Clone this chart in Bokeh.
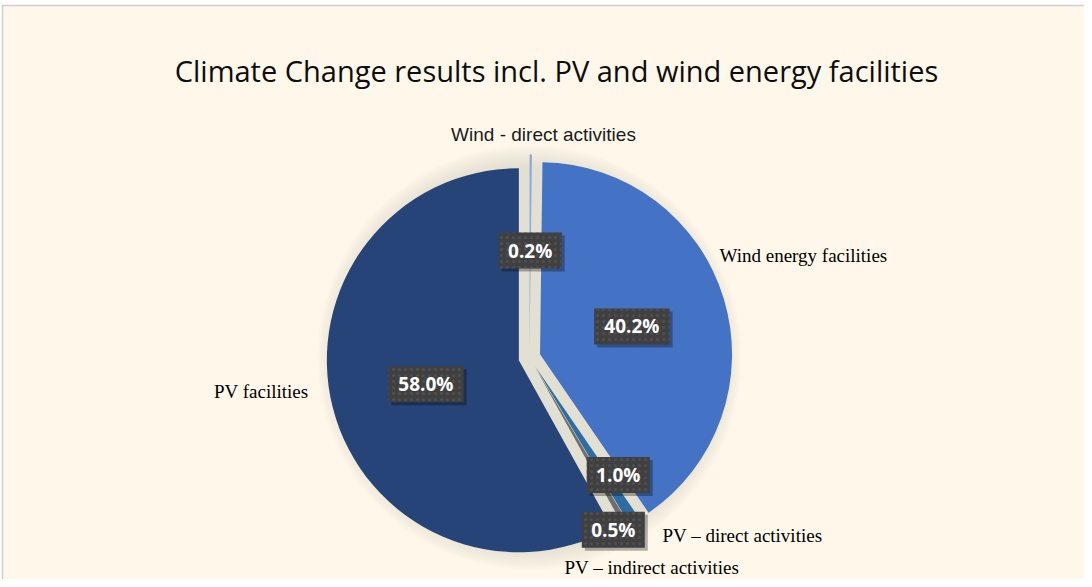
import numpy as np
from bokeh.plotting import figure
from bokeh.models import Range1d
from bokeh.embed import file_html
from bokeh.resources import INLINE
from bokeh.core.properties import value

# ---------------- data ----------------
categories = ["Wind - direct activities", "Wind energy facilities",
              "PV – direct activities", "PV – indirect activities", "PV facilities"]
shares = [0.2, 40.2, 1.0, 0.5, 58.0]
pct_labels = ["0.2%", "40.2%", "1.0%", "0.5%", "58.0%"]
colors = ["#8FAADC", "#4472C4", "#2E6CA4", "#6E6E6E", "#264478"]
title = "Climate Change results incl. PV and wind energy facilities"

# ---------------- layout ----------------
W, H = 1084, 579
CX, CY = 529, 222          # pie centre (data = screen px)
R = 192                    # radius
EXPLODE = 11               # slice explosion
lab_frac = [0.5, 0.5, 0.71, 0.94, 0.5]
lab_nudge = [0.0, 0.0, -4.8, 4.2, 0.0]   # degrees
# category label anchors (x, y, align, font)
cat_pos = [(543, 445, "center", "Liberation Sans"),
           (719, 324, "left", "Liberation Serif"),
           (662, 44, "left", "Liberation Serif"),
           (564, 12, "left", "Liberation Serif"),
           (308, 188, "right", "Liberation Serif")]

p = figure(width=W, height=H, x_range=Range1d(0, W), y_range=Range1d(0, H),
           output_backend="svg", toolbar_location=None, min_border=0)
p.axis.visible = False
p.grid.visible = False
p.outline_line_color = None
p.background_fill_color = "white"
p.border_fill_color = "white"

# chart frame
p.quad(left=2, right=W + 20, bottom=-20, top=H - 5,
       fill_color="#FFF8EA", line_color="#CFCFCF", line_width=1.5)

# soft shadow / gap background
for k in range(12):
    p.circle(x=CX, y=CY, radius=190 + 2 * k, fill_color="#D6D2C6",
             fill_alpha=0.07, line_color=None)

total = sum(shares)
cum = np.cumsum([0] + shares) / total * 2 * np.pi
th1 = cum[:-1]
th2 = cum[1:]
thm = (th1 + th2) / 2
ax = CX + EXPLODE * np.sin(thm)
ay = CY + EXPLODE * np.cos(thm)

p.wedge(x=ax, y=ay, radius=R,
        start_angle=np.pi / 2 - th2, end_angle=np.pi / 2 - th1,
        direction="anticlock", fill_color=colors, line_color=None)

# data labels
ang = thm + np.radians(lab_nudge)
lx = ax + np.array(lab_frac) * R * np.sin(ang)
ly = ay + np.array(lab_frac) * R * np.cos(ang)
bw = [12.5 * len(t) + 13 for t in pct_labels]
p.rect(x=lx + 3, y=ly - 3, width=bw, height=36, fill_color="black",
       fill_alpha=0.3, line_color=None)
p.rect(x=lx, y=ly, width=bw, height=36, fill_color="#404040", line_color=None,
       hatch_pattern="dot", hatch_color="#4F4F4F", hatch_scale=6, hatch_weight=1)
p.text(x=lx, y=ly, text=pct_labels, text_font=value("Open Sans"),
       text_font_style="bold", text_font_size="19px", text_color="white",
       text_align="center", text_baseline="middle")

# category labels
for name, (x, y, al, fnt) in zip(categories, cat_pos):
    p.text(x=[x], y=[y], text=[name], text_font=value(fnt), text_font_size="19px",
           text_color="#1A1A1A" if fnt == "Liberation Sans" else "black",
           text_align=al, text_baseline="middle")

# title
p.text(x=[556], y=[509], text=[title], text_font=value("Open Sans"),
       text_font_size="29px", text_color="#0D0D0D",
       text_align="center", text_baseline="middle")

open("out.html", "w").write(file_html(p, INLINE))
